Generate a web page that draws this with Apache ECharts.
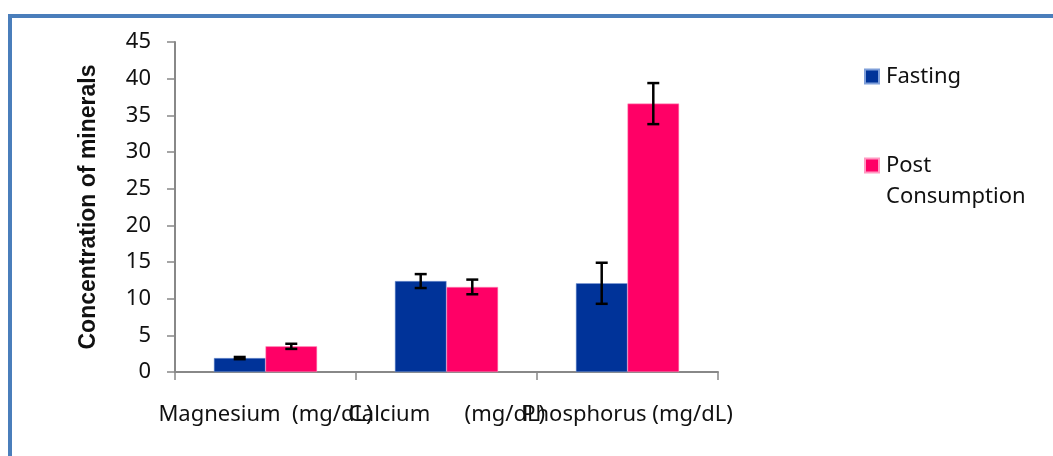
<!DOCTYPE html>
<html><head><meta charset="utf-8">
<script src="https://cdn.jsdelivr.net/npm/echarts@6/dist/echarts.min.js"></script>
<style>html,body{margin:0;padding:0;background:#fff}#c{width:1053px;height:456px}</style>
</head><body><div id="c"></div>
<script>
const categories = ['Magnesium  (mg/dL)', 'Calcium      (mg/dL)', 'Phosphorus (mg/dL)'];
const seriesNames = ['Fasting', 'Post Consumption'];
const fasting = [1.9, 12.4, 12.1];
const fastingErr = [0.15, 0.95, 2.8];
const post = [3.5, 11.6, 36.6];
const postErr = [0.35, 1.0, 2.8];
const yTicks = [0, 5, 10, 15, 20, 25, 30, 35, 40, 45];

const catGapRatio = 0.43;
function errSeries(vals, errs, idx) {
  return {
    type: 'custom', name: seriesNames[idx] + ' err', silent: true, z: 5,
    data: vals.map((v, i) => [i, v, errs[i]]),
    renderItem: function (params, api) {
      const i = api.value(0), v = api.value(1), e = api.value(2);
      const band = api.size([1, 0])[0];
      const bw = band * (1 - catGapRatio) / 2;
      const c = api.coord([i, v]);
      const x = c[0] + (idx === 0 ? -bw / 2 : bw / 2);
      const yt = api.coord([i, v + e])[1];
      const yb = api.coord([i, v - e])[1];
      const cap = 6;
      const st = { stroke: '#000', lineWidth: 2.5 };
      return { type: 'group', children: [
        { type: 'line', shape: { x1: x, y1: yt, x2: x, y2: yb }, style: st },
        { type: 'line', shape: { x1: x - cap, y1: yt, x2: x + cap, y2: yt }, style: st },
        { type: 'line', shape: { x1: x - cap, y1: yb, x2: x + cap, y2: yb }, style: st }
      ]};
    }
  };
}

const chart = echarts.init(document.getElementById('c'));
const font = '"Noto Sans", "Open Sans", sans-serif';
chart.setOption({
  animation: false,
  textStyle: { fontFamily: font },
  graphic: [{ type: 'rect', shape: { x: 10, y: 16, width: 1100, height: 500 }, style: { fill: 'none', stroke: '#4a7ebb', lineWidth: 4 }, z: -1 }],
  grid: { left: 175, right: 335, top: 42, bottom: 84 },
  legend: {
    orient: 'vertical', left: 864, top: 61, padding: 0, itemGap: 27, itemWidth: 14, itemHeight: 14,
    icon: 'rect', data: seriesNames,
    formatter: n => n === 'Post Consumption' ? '\u00a0\nPost\nConsumption' : n,
    textStyle: { fontSize: 22, lineHeight: 31, color: '#111', fontFamily: font, padding: [0, 0, 0, 2] }
  },
  xAxis: {
    type: 'category', data: categories,
    axisLine: { lineStyle: { color: '#888', width: 2 } },
    axisTick: { show: true, length: 8, lineStyle: { color: '#888', width: 1.5 } },
    axisLabel: { interval: 0, fontSize: 22, color: '#111', margin: 32, fontFamily: font }
  },
  yAxis: {
    type: 'value', min: 0, max: 45, interval: 5,
    name: 'Concentration of minerals', nameLocation: 'middle', nameGap: 75,
    nameTextStyle: { fontSize: 23, fontWeight: 'bold', color: '#111', fontFamily: '"Liberation Sans Narrow", "Liberation Sans", sans-serif' },
    splitLine: { show: false },
    axisLine: { show: true, lineStyle: { color: '#888', width: 2 } },
    axisTick: { show: true, length: 8, lineStyle: { color: '#888', width: 1.5 } },
    axisLabel: { fontSize: 22, color: '#111', margin: 24, fontFamily: font, formatter: v => yTicks.includes(v) ? String(v) : '' }
  },
  series: [
    { type: 'bar', name: seriesNames[0], data: fasting, barGap: '0%', barCategoryGap: (catGapRatio * 100) + '%',
      itemStyle: { color: '#003399', borderColor: '#7f9fd9', borderWidth: 0.5 } },
    { type: 'bar', name: seriesNames[1], data: post, barGap: '0%', barCategoryGap: (catGapRatio * 100) + '%',
      itemStyle: { color: '#ff0066', borderColor: '#ff99c2', borderWidth: 0.5 } },
    errSeries(fasting, fastingErr, 0),
    errSeries(post, postErr, 1)
  ]
});
</script></body></html>
